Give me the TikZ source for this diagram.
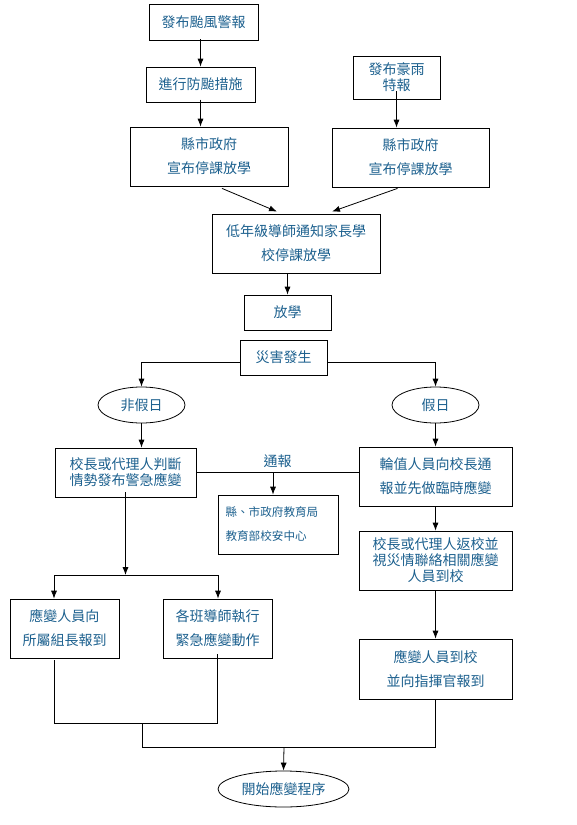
\documentclass[tikz,border=0pt]{standalone}
\usepackage{fontspec}
\setmainfont{Noto Sans CJK TC}
\usepackage{tikz}
\usetikzlibrary{arrows.meta,calc,shapes.geometric}
\definecolor{txtblue}{RGB}{28,96,142}
\tikzset{
  box/.style 2 args={draw, line width=.6pt, text=txtblue, align=center, inner sep=0pt,
    minimum width=#1*0.75pt, minimum height=#2*0.75pt, font=\fontsize{10.5}{18}\selectfont},
  tightbox/.style={font=\fontsize{10.5}{12}\selectfont},
  oval/.style 2 args={ellipse, draw, line width=.6pt, text=txtblue, inner sep=0pt,
    minimum width=#1*0.75pt, minimum height=#2*0.75pt, font=\fontsize{10.5}{18}\selectfont},
  flow/.style={line width=.6pt, -{Latex[length=6pt,width=4.6pt]}},
  link/.style={line width=.6pt}
}
\begin{document}
\begin{tikzpicture}[x=0.75pt,y=-0.75pt]
\useasboundingbox (0,0) rectangle (576,825);
\node[box={109}{36}] (warn) at (203.5,22) {發布颱風警報};
\node[box={109}{35}] (prep) at (200.5,84.5) {進行防颱措施};
\node[box={158}{59}] (govL) at (209,156.5) {縣市政府\\宣布停課放學};
\node[box={87}{43},tightbox] (rain) at (396.5,77.5) {發布豪雨\\特報};
\node[box={157}{59}] (govR) at (410.5,157.5) {縣市政府\\宣布停課放學};
\node[box={168}{59}] (notify) at (296,243.5) {低年級導師通知家長學\\校停課放學};
\node[box={87}{35}] (leave) at (287.5,312.5) {放學};
\node[box={87}{35}] (disaster) at (283.5,357.5) {災害發生};
\node[oval={87}{36}] (workday) at (141.5,405) {非假日};
\node[oval={87}{36}] (holiday) at (435.5,405) {假日};
\node[box={141}{49},tightbox] (judge) at (125.5,472.5) {校長或代理人判斷\\情勢發布警急應變};
\node[box={153}{59}] (duty) at (435.5,476.5) {輪值人員向校長通\\報並先做臨時應變};
\node[box={120}{59},font=\fontsize{8.7}{18}\selectfont,text width=105*0.75pt,align=left] (report) at (278,524.5) {縣、市政府教育局\\教育部校安中心};
\node[box={153}{59},tightbox] (back) at (435.5,560.5) {校長或代理人返校並\\視災情聯絡相關應變\\人員到校};
\node[box={109}{59}] (staff) at (64.5,628.5) {應變人員向\\所屬組長報到};
\node[box={109}{59}] (teacher) at (217.5,628.5) {各班導師執行\\緊急應變動作};
\node[box={153}{60}] (arrive) at (435.5,669) {應變人員到校\\並向指揮官報到};
\node[oval={131}{36}] (start) at (283.5,789) {開始應變程序};
\coordinate (tap) at (273,472);
\coordinate (splitL) at (54,575);
\coordinate (splitR) at (218,575);
\coordinate (joinL) at (142,723);
\coordinate (merge) at (284,747);
\draw[flow] ([yshift=1]warn.south -| prep.north) -- (prep.north);
\draw[flow] ([yshift=2]prep.south) -- (prep.south |- govL.north);
\draw[flow] ([yshift=6]rain.south) -- (rain.south |- govR.north);
\draw[flow] ($(govL.south)+(13,2)$) -- ($(notify.north)+(-19,-2)$);
\draw[flow] ($(govR.south)+(-13,1)$) -- ($(notify.north)+(36,-2)$);
\draw[flow] (notify.south -| leave.north) -- (leave.north);
\draw[flow] ($(disaster.west)+(0,5)$) -| (workday.north);
\draw[flow] ($(disaster.east)+(0,5)$) -| (holiday.north);
\draw[flow] (workday.south) -- (workday.south |- judge.north);
\draw[flow] (holiday.south) -- (duty.north);
\draw[link] (judge.east) -- (judge.east -| duty.west) node[midway, above, text=txtblue, font=\fontsize{10.5}{12}\selectfont, inner sep=3pt] {通報};
\draw[flow] (tap) -- (tap |- report.north);
\draw[flow] (duty.south) -- (back.north);
\draw[flow] (back.south) -- (arrive.north);
\draw[flow] ([yshift=4]judge.south) -- (judge.south |- splitL);
\draw[flow] (splitL) -- (splitL |- staff.north);
\draw[link] (splitL) -- (splitR);
\draw[flow] (splitR) -- (splitR |- teacher.north);
\draw[link] ($(staff.south)+(-10,2)$) |- ($(teacher.south)+(0,65)$) -- ([yshift=3]teacher.south);
\draw[link] (joinL) |- (merge) -| (arrive.south);
\draw[flow] (merge) -- (start.north);
\end{tikzpicture}
\end{document}
